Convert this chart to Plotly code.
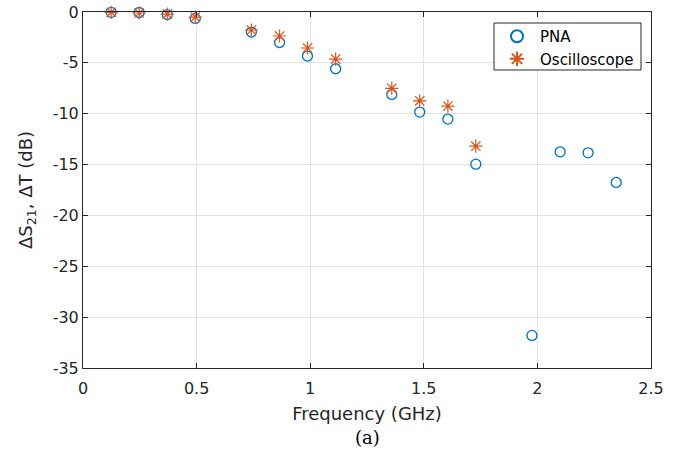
import plotly.graph_objects as go

# Data
freq_pna = [0.124, 0.247, 0.371, 0.494, 0.741, 0.865, 0.988, 1.112, 1.359, 1.482,
            1.606, 1.729, 1.976, 2.100, 2.223, 2.347]
ds21_pna = [-0.03, -0.05, -0.25, -0.63, -1.97, -3.0, -4.33, -5.58, -8.1, -9.84,
            -10.53, -14.96, -31.8, -13.75, -13.85, -16.76]

freq_osc = [0.124, 0.247, 0.371, 0.494, 0.741, 0.865, 0.988, 1.112, 1.359, 1.482,
            1.606, 1.729]
dt_osc = [-0.03, -0.1, -0.2, -0.5, -1.77, -2.36, -3.54, -4.63, -7.5, -8.73,
          -9.25, -13.19]

x_ticks = [0, 0.5, 1, 1.5, 2, 2.5]
y_ticks = [0, -5, -10, -15, -20, -25, -30, -35]

FONT = "DejaVu Sans, Liberation Sans, sans-serif"
AX = "#262626"
GRID = "#e3e3e3"

fig = go.Figure()
fig.add_trace(go.Scatter(
    x=freq_pna, y=ds21_pna, mode="markers", name="PNA", cliponaxis=False,
    marker=dict(symbol="circle-open", size=10, color="#0072BD",
                line=dict(width=1.3, color="#0072BD")),
))
fig.add_trace(go.Scatter(
    x=freq_osc, y=dt_osc, mode="markers", name="Oscilloscope", cliponaxis=False,
    marker=dict(symbol="asterisk-open", size=11, color="#D95319",
                line=dict(width=1.2, color="#D95319")),
))

axis_common = dict(
    showline=True, linecolor=AX, linewidth=1, mirror="ticks",
    ticks="inside", ticklen=5, tickcolor=AX, tickwidth=1,
    showgrid=True, gridcolor=GRID, gridwidth=1, zeroline=False,
    tickfont=dict(family=FONT, size=16, color=AX),
    automargin=False, ticklabeloverflow="allow",
)

fig.update_layout(
    width=691, height=463,
    margin=dict(l=83, r=40, t=12, b=95),
    paper_bgcolor="white", plot_bgcolor="white",
    showlegend=True,
    legend=dict(
        x=0.7236, y=0.9003, xanchor="left", yanchor="middle",
        bgcolor="rgba(0,0,0,0)", borderwidth=0,
        font=dict(family=FONT, size=15, color="#000000"),
        itemsizing="constant", itemwidth=36, tracegroupgap=0,
    ),
    shapes=[dict(
        type="rect", xref="paper", yref="paper",
        x0=0.7236, x1=0.9824, y0=0.8371, y1=0.9691,
        line=dict(color=AX, width=1), fillcolor="white", layer="above",
    )],
    xaxis=dict(
        range=[0, 2.5], tickvals=x_ticks, ticktext=[f"{v:g}" for v in x_ticks],
        ticklabelstandoff=6,
        title=dict(text="Frequency (GHz)", font=dict(family=FONT, size=18, color=AX), standoff=10),
        **axis_common,
    ),
    yaxis=dict(
        range=[-35, 0], tickvals=y_ticks, ticktext=[f"{v:g}" for v in y_ticks],
        title=dict(text="ΔS<sub>21</sub>, ΔT (dB)", font=dict(family=FONT, size=18, color=AX), standoff=15),
        **axis_common,
    ),
    annotations=[dict(
        text="(a)", x=0.5, y=-0.194, xref="paper", yref="paper",
        xanchor="center", yanchor="middle", showarrow=False,
        font=dict(family="DejaVu Serif, Liberation Serif, serif", size=18, color="#000000"),
    )],
)

fig.write_html("out.html", config={"displayModeBar": False},
               post_script="document.body.style.margin='0';")
